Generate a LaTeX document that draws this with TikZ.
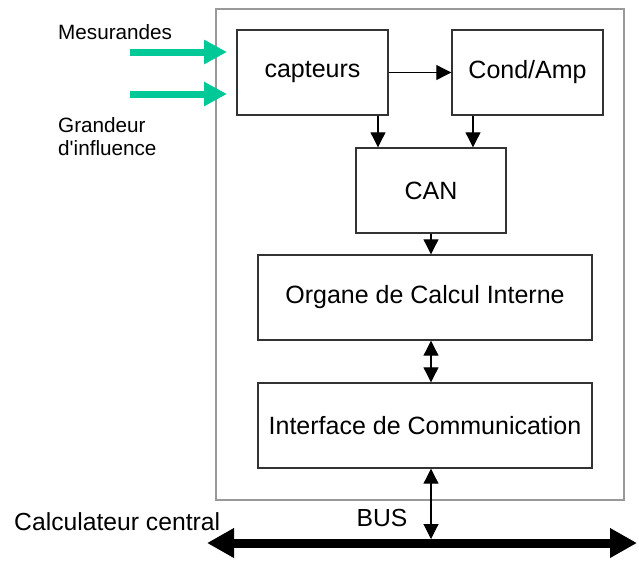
\documentclass[tikz,border=0pt]{standalone}
\usepackage{fontspec}
\setmainfont{Liberation Sans}
\usetikzlibrary{arrows.meta}
\definecolor{vertgrand}{RGB}{0,200,150}
\tikzset{
	bloc/.style={draw=black!80, line width=1.4pt, minimum height=85pt, inner sep=0pt, font=\fontsize{25}{28}\selectfont},
	fleche/.style={-{Triangle[length=15pt,width=15pt]}, line width=1.1pt},
	dfleche/.style={{Triangle[length=15pt,width=15pt]}-{Triangle[length=15pt,width=15pt]}, line width=1.1pt},
	vert/.style={-{Triangle[length=23pt,width=23pt]}, line width=7pt, draw=vertgrand},
	etiq/.style={font=\fontsize{20.7}{23}\selectfont, align=left, anchor=west, inner sep=0pt},
	grand/.style={font=\fontsize{24.7}{28}\selectfont, inner sep=0pt},
}
\begin{document}
\begin{tikzpicture}[x=1pt,y=-1pt]
	\useasboundingbox (0,0) rectangle (639,560);
	% boitier
	\node[draw=black!40, line width=1.5pt, minimum width=408pt, minimum height=491pt] (module) at (420,254.5) {};
	\node[bloc, minimum width=151pt] at (312.5,72.5) (capteurs) {capteurs};
	\node[bloc, minimum width=151pt] at (527.5,72.5) (cond) {Cond/Amp};
	\node[bloc, minimum width=150pt] at (431,190.5) (can) {CAN};
	\node[bloc, minimum width=334pt] at (425,297.5) (organe) {Organe de Calcul Interne};
	\node[bloc, minimum width=334pt] at (425,425.5) (interface) {Interface de Communication};
	% entrees
	\node[etiq] at (58,32) (mes) {Mesurandes};
	\node[etiq] at (58,137) (infl) {Grandeur\\d\textquotesingle influence};
	\coordinate (mesA) at (130,52);
	\coordinate (mesB) at (227,52);
	\coordinate (inflA) at (130,94);
	\coordinate (inflB) at (227,94);
	\draw[vert] (mesA) -- (mesB);
	\draw[vert] (inflA) -- (inflB);
	% liaisons internes
	\draw[fleche] (capteurs.east) -- (cond.west);
	\draw[fleche] (capteurs.south -| 378,0) -- (can.north -| 378,0);
	\draw[fleche] (cond.south -| 473,0) -- (can.north -| 473,0);
	\draw[fleche] (can.south) -- (can.south |- organe.north);
	\draw[dfleche] (organe.south -| can) -- (interface.north -| can);
	% bus
	\coordinate (busG) at (207,543);
	\coordinate (busD) at (637,543);
	\draw[line width=9pt, {Triangle[length=27pt,width=28pt]}-{Triangle[length=27pt,width=28pt]}] (busG) -- (busD);
	\draw[dfleche, shorten >=4pt] (interface.south -| can) -- (can |- busG);
	\node[grand] at (382,518) (bus) {BUS};
	\node[grand, anchor=west] at (14,522) (calc) {Calculateur central};
\end{tikzpicture}
\end{document}
